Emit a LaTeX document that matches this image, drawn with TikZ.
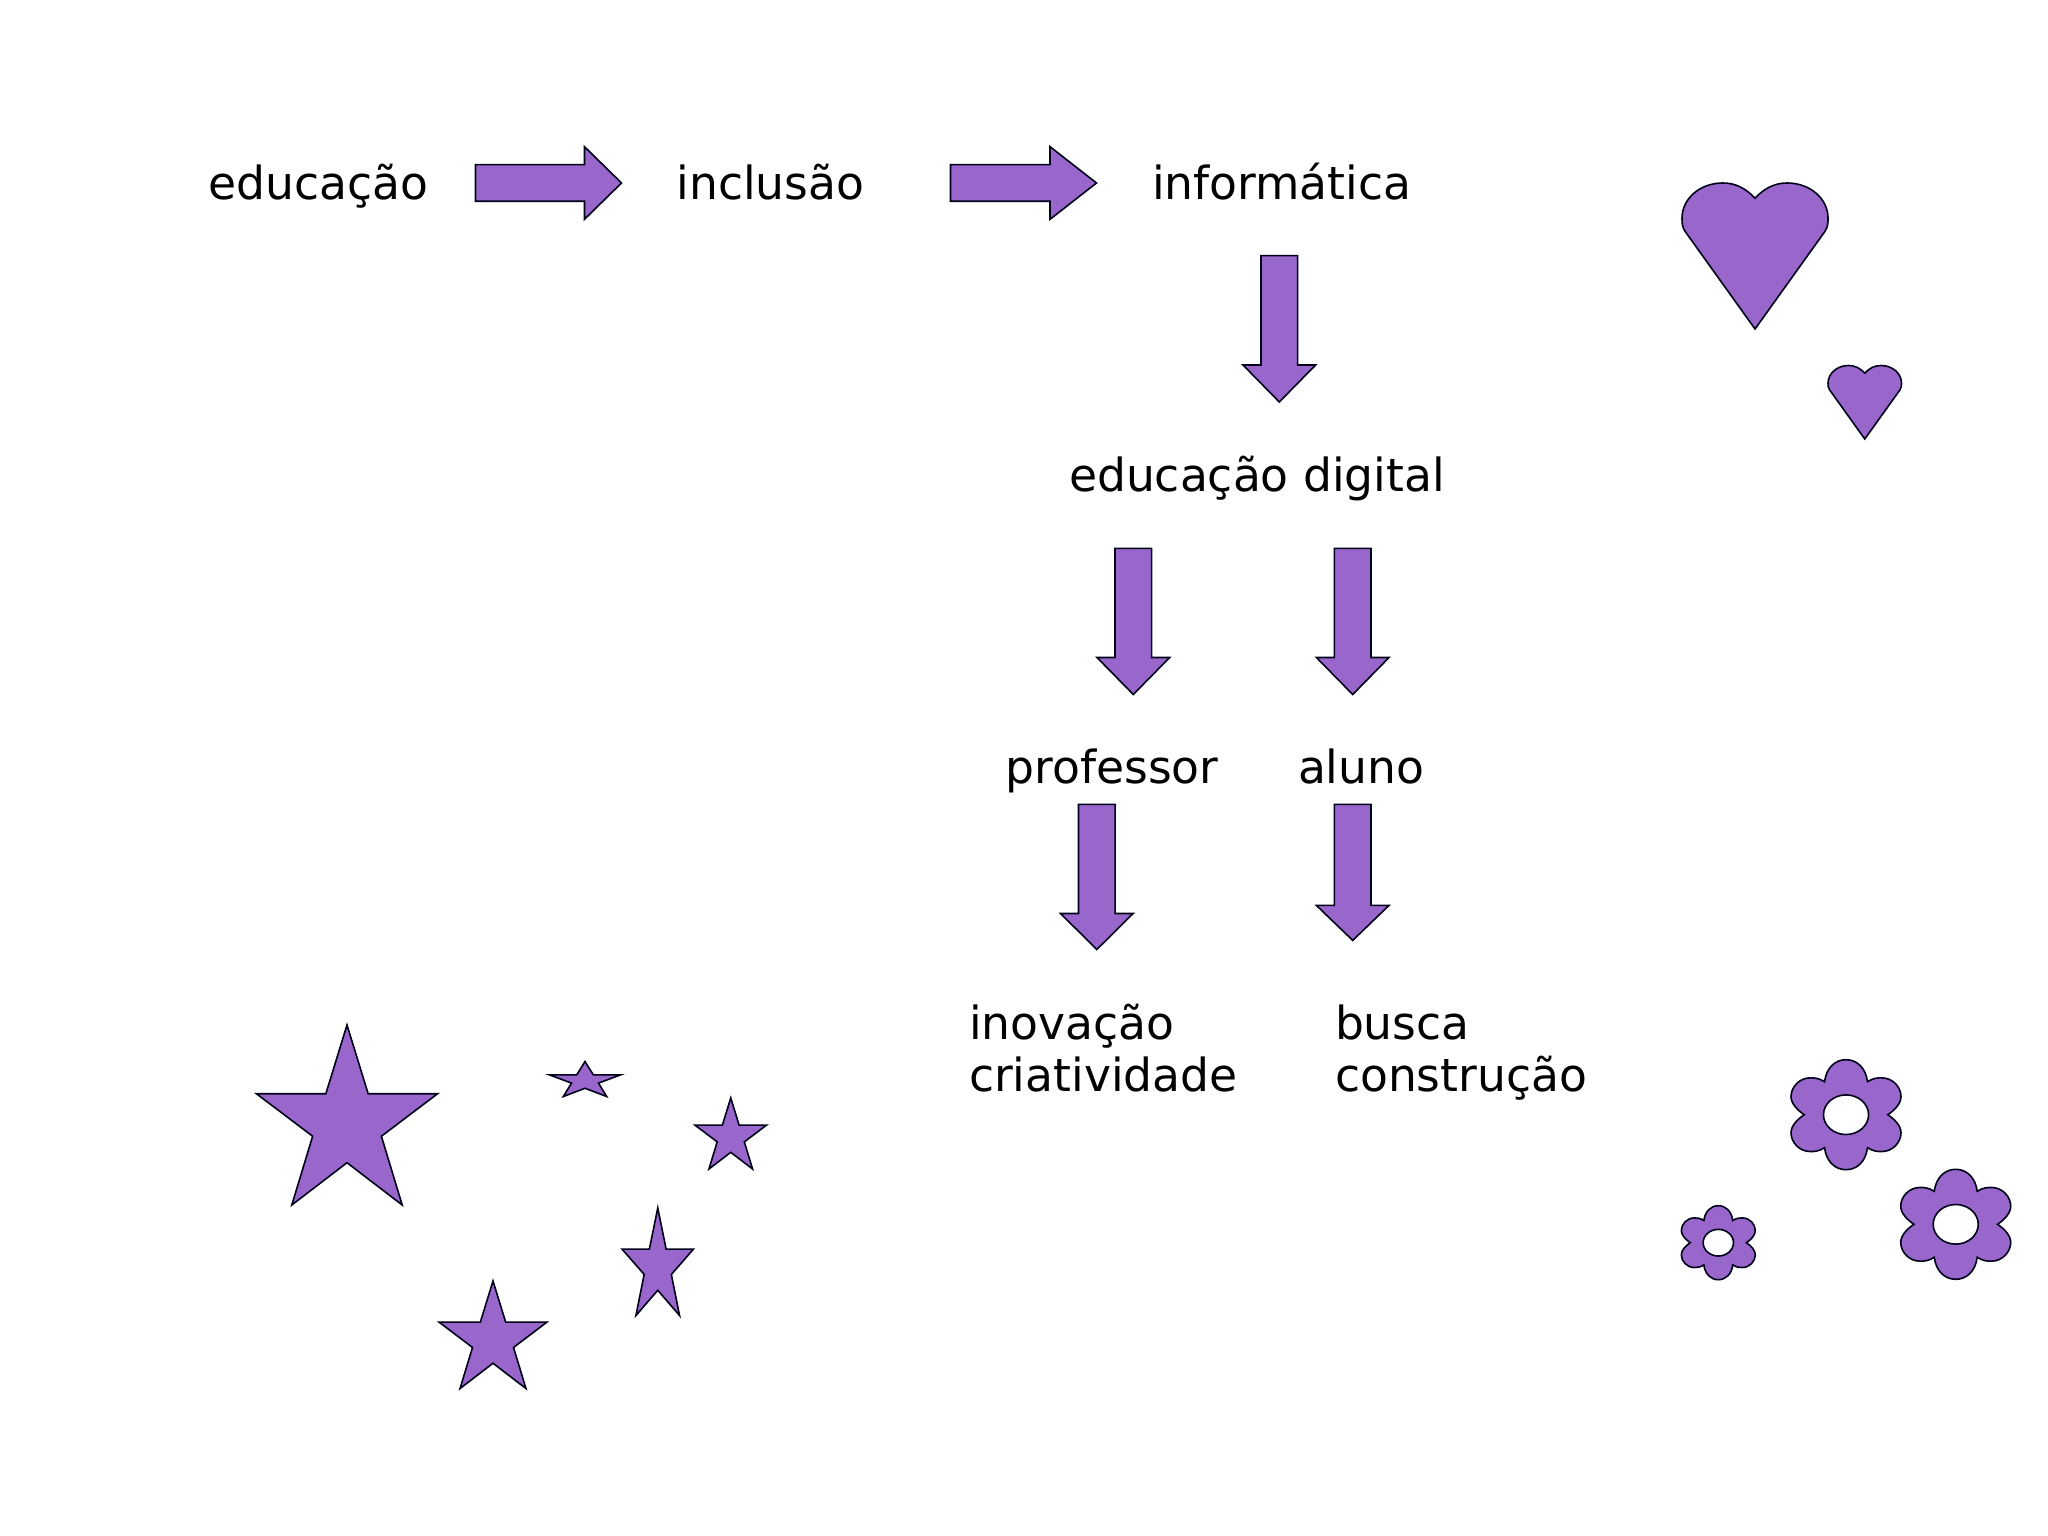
\documentclass[tikz,border=0pt]{standalone}
\usepackage{fontspec}
\setmainfont{DejaVu Sans}
\usetikzlibrary{calc}
\definecolor{lilac}{HTML}{9966CC}
\tikzset{
  shp/.style={draw=black!90!blue,fill=lilac,line width=0.8pt,line join=miter},
  lbl/.style={inner sep=0pt,outer sep=0pt,anchor=base west,align=left,text=black,font=\fontsize{22.8}{26}\selectfont},
}
\def\hb{18.3}\def\hh{36.3}
\newcommand\rightblock[3]{\draw[shp] ($(#1)+(0,-\hb)$) -- ($(#2)+(-#3,-\hb)$) -- ($(#2)+(-#3,-\hh)$) -- (#2) -- ($(#2)+(-#3,\hh)$) -- ($(#2)+(-#3,\hb)$) -- ($(#1)+(0,\hb)$) -- cycle;}
\newcommand\downblock[3]{\draw[shp] ($(#1)+(-\hb,0)$) -- ($(#2)+(-\hb,-#3)$) -- ($(#2)+(-\hh,-#3)$) -- (#2) -- ($(#2)+(\hh,-#3)$) -- ($(#2)+(\hb,-#3)$) -- ($(#1)+(\hb,0)$) -- cycle;}
\newcommand\mystar[4]{\begin{scope}[shift={(#1,#2)}]
  \draw[shp,x={#3*0.5pt},y={-#4*0.5pt}] (.5,0) -- (.617,.382) -- (1,.382) -- (.69,.618) -- (.805,1) -- (.5,.765) -- (.195,1) -- (.31,.618) -- (0,.382) -- (.383,.382) -- cycle;
\end{scope}}
\newcommand\myheart[4]{\begin{scope}[shift={(#1,#2)}]
  \draw[shp,x={#3*0.5pt},y={-#4*0.5pt}] (.5,1) -- (.98,.33) .. controls (1.0,.30) and (1,.27) .. (1,.24) .. controls (1,.11) and (.88,0) .. (.72,0) .. controls (.63,0) and (.56,.04) .. (.5,.104) .. controls (.44,.04) and (.37,0) .. (.28,0) .. controls (.12,0) and (0,.11) .. (0,.24) .. controls (0,.27) and (0,.30) .. (.02,.33) -- cycle;
\end{scope}}
\newcommand\myflower[3]{\begin{scope}[shift={(#1,#2)}]
  \draw[shp,even odd rule,x={#3*0.5pt},y={-#3*0.5pt}]
  (-.39,-.6) .. controls (-.36,-.85) and (-.2,-1) .. (0,-1) .. controls (.2,-1) and (.36,-.85) .. (.39,-.6)
  .. controls (.5,-.67) and (.58,-.67) .. (.65,-.67) .. controls (.85,-.67) and (1,-.5) .. (1,-.33) .. controls (1,-.2) and (.88,-.08) .. (.76,0)
  .. controls (.88,.08) and (1,.2) .. (1,.33) .. controls (1,.5) and (.85,.67) .. (.65,.67) .. controls (.58,.67) and (.5,.67) .. (.39,.6)
  .. controls (.36,.85) and (.2,1) .. (0,1) .. controls (-.2,1) and (-.36,.85) .. (-.39,.6)
  .. controls (-.5,.67) and (-.58,.67) .. (-.65,.67) .. controls (-.85,.67) and (-1,.5) .. (-1,.33) .. controls (-1,.2) and (-.88,.08) .. (-.76,0)
  .. controls (-.88,-.08) and (-1,-.2) .. (-1,-.33) .. controls (-1,-.5) and (-.85,-.67) .. (-.65,-.67) .. controls (-.58,-.67) and (-.5,-.67) .. (-.39,-.6) -- cycle
  (0,0) ellipse [x radius=.41,y radius=.36];
\end{scope}}
\begin{document}
\begin{tikzpicture}[x=0.5pt,y=-0.5pt]
\useasboundingbox (0,0) rectangle (2048,1535);
% labels
\node[lbl] (educacao) at (208.5,199.5) {educação};
\node[lbl] (inclusao) at (676.5,199.5) {inclusão};
\node[lbl] (informatica) at (1152,199.5) {informática};
\node[lbl] (edudig) at (1069,491) {educação digital};
\node[lbl] (professor) at (1005.5,783) {professor};
\node[lbl] (aluno) at (1298,783) {aluno};
\node[lbl] (inovacao) at (969,1091) {inovação\\criatividade};
\node[lbl] (busca) at (1335,1091) {busca\\construção};
% block arrows
\coordinate (a1s) at (475.5,183); \coordinate (a1e) at (621.5,183);
\coordinate (a2s) at (950.5,183); \coordinate (a2e) at (1096.5,183);
\coordinate (a3s) at (1279.3,255.7); \coordinate (a3e) at (1279.3,402);
\coordinate (a4s) at (1133.3,548.3); \coordinate (a4e) at (1133.3,694.5);
\coordinate (a5s) at (1352.7,548.3); \coordinate (a5e) at (1352.7,694.5);
\coordinate (a6s) at (1096.8,804.3); \coordinate (a6e) at (1096.8,949.5);
\coordinate (a7s) at (1352.7,804.3); \coordinate (a7e) at (1352.7,940.4);
\rightblock{a1s}{a1e}{37}
\rightblock{a2s}{a2e}{46.5}
\downblock{a3s}{a3e}{37}
\downblock{a4s}{a4e}{37}
\downblock{a5s}{a5e}{37}
\downblock{a6s}{a6e}{36}
\downblock{a7s}{a7e}{35}
% stars
\mystar{256.5}{1025}{181}{180}
\mystar{549.5}{1061.5}{71}{35}
\mystar{695}{1098}{71.5}{71}
\mystar{622}{1208}{71.5}{107.5}
\mystar{439}{1281}{108}{107.5}
% hearts
\myheart{1682}{183}{146}{146}
\myheart{1828}{365.5}{73.5}{73.5}
% flowers
\myflower{1846}{1114.7}{55}
\myflower{1955.7}{1224.3}{55}
\myflower{1718.3}{1242.7}{37}
\end{tikzpicture}
\end{document}
